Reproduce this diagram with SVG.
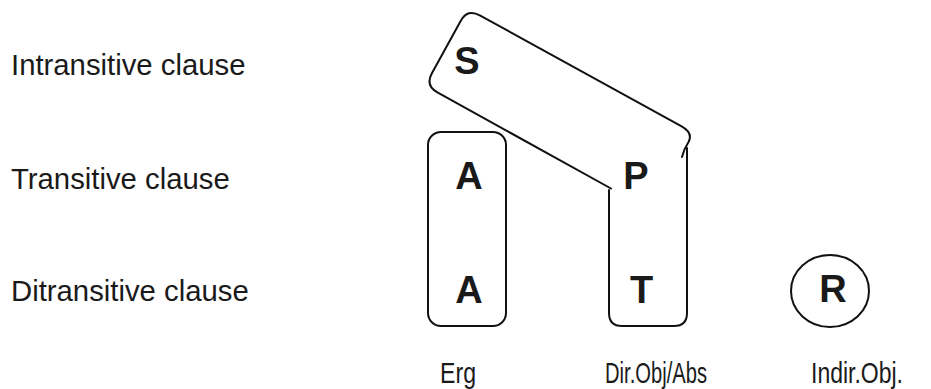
<svg xmlns="http://www.w3.org/2000/svg" width="931" height="389" viewBox="0 0 931 389">
  <style>
    .label { font-family: "Liberation Sans", Arial, sans-serif; font-size: 29.3px; fill: #1a1a1a; }
    .col { font-family: "Liberation Sans", Arial, sans-serif; font-size: 30px; fill: #1a1a1a; }
    .role { font-family: "Liberation Sans", Arial, sans-serif; font-size: 38px; font-weight: bold; fill: #1a1a1a; text-anchor: middle; }
    .outline { fill: none; stroke: #111; stroke-width: 2; stroke-linejoin: round; stroke-linecap: round; }
  </style>
  <rect width="931" height="389" fill="#fff"/>

  <!-- clause type labels -->
  <g id="clause-labels">
    <text class="label" x="11" y="74.5">Intransitive clause</text>
    <text class="label" x="11" y="188.5">Transitive clause</text>
    <text class="label" x="11" y="301">Ditransitive clause</text>
  </g>

  <!-- column headings (narrow set) -->
  <g id="column-labels">
    <text class="col" x="440" y="383" textLength="36" lengthAdjust="spacingAndGlyphs">Erg</text>
    <text class="col" x="605" y="383" textLength="102" lengthAdjust="spacingAndGlyphs">Dir.Obj/Abs</text>
    <text class="col" x="811" y="383" textLength="92" lengthAdjust="spacingAndGlyphs">Indir.Obj.</text>
  </g>

  <!-- groupings -->
  <g id="connectors">
    <!-- slanted box around S, running down into the P/T column -->
    <path id="s-box" class="outline" d="M 611,188.5 L 437.4,92.4 Q 425.1,85.6 431.9,73.3 L 460.8,20.8 Q 467.5,8.5 479.8,15.3 L 681.2,126.1 Q 693.5,132.8 688.5,142 Q 684,149 682,157"/>
    <!-- P/T column box -->
    <path id="pt-box" class="outline" d="M 687,148 L 687,313 Q 687,326 674,326 L 622,326 Q 609,326 609,313 L 609,190"/>
    <!-- A column box -->
    <rect id="a-box" class="outline" x="428" y="132" width="78" height="194" rx="13" ry="13"/>
    <!-- circle around R -->
    <ellipse id="r-ring" class="outline" cx="830" cy="291" rx="39" ry="36"/>
  </g>

  <g id="node-S"><text class="role" x="467" y="74">S</text></g>
  <g id="node-A1"><text class="role" x="469" y="189">A</text></g>
  <g id="node-A2"><text class="role" x="469" y="302.7">A</text></g>
  <g id="node-P"><text class="role" x="636" y="189">P</text></g>
  <g id="node-T"><text class="role" x="641.5" y="302.7">T</text></g>
  <g id="node-R"><text class="role" x="833" y="302.3">R</text></g>
</svg>
